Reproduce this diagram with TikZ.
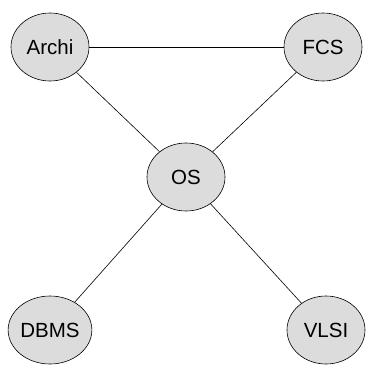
\documentclass[tikz,border=0pt]{standalone}
\usepackage{fontspec}
\setmainfont{Liberation Sans}
\usetikzlibrary{shapes.geometric}
\begin{document}
\begin{tikzpicture}[x=1pt,y=-1pt,
  topic/.style={ellipse,draw=black,fill={rgb,255:red,220;green,220;blue,220},line width=0.6pt,minimum width=78pt,minimum height=68pt,inner sep=0pt,font=\fontsize{20.5}{23}\selectfont},
  link/.style={draw=black,line width=0.6pt}]
\useasboundingbox (0,0) rectangle (377,375);
\node[topic] (archi) at (50,47) {Archi};
\node[topic] (fcs) at (323,47) {FCS};
\node[topic] (os) at (186,177) {OS};
\node[topic] (dbms) at (50,330) {DBMS};
\node[topic] (vlsi) at (326,330) {VLSI};
\draw[link] (archi) -- (fcs);
\draw[link] (archi) -- (os);
\draw[link] (fcs) -- (os);
\draw[link] (os) -- (dbms);
\draw[link] (os) -- (vlsi);
\end{tikzpicture}
\end{document}
